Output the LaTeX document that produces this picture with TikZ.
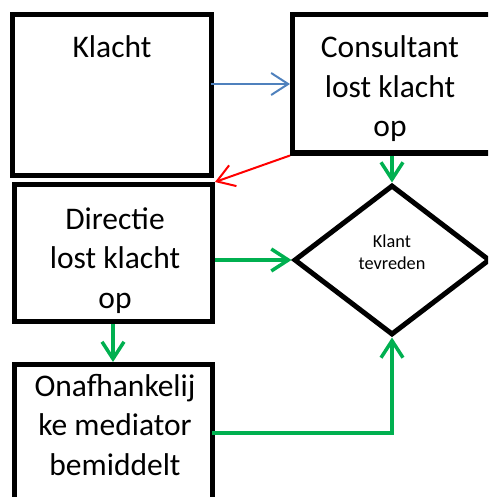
\documentclass[tikz,border=0pt]{standalone}
\usepackage{fontspec}
\setmainfont{Carlito}
\usetikzlibrary{arrows.meta,shapes.geometric}
\definecolor{ablue}{HTML}{4F81BD}
\definecolor{agreen}{HTML}{00B050}
\definecolor{ared}{HTML}{FF0000}
\begin{document}
\begin{tikzpicture}[x=1pt,y=-1pt,
  boxst/.style={draw=black,line width=5pt,rectangle,inner sep=0pt},
  bigtxt/.style={font={\fontsize{31.5}{39.5}\selectfont},align=center,inner sep=0pt,anchor=base},
  smalltxt/.style={font={\fontsize{18.3}{21.5}\selectfont},align=center,inner sep=0pt,anchor=base},
  tipst/.style={-{Straight Barb[length=17pt,width=22pt]}},
  bluearr/.style={tipst,draw=ablue,line width=2pt},
  redarr/.style={tipst,draw=ared,line width=2pt},
  greenarr/.style={tipst,draw=agreen,line width=3.5pt}]
\useasboundingbox (0,0) rectangle (488,497);
\clip (0,0) rectangle (488,497);
\node[boxst,minimum width=199pt,minimum height=160.5pt] (b1) at (112,94.75) {};
\node[boxst,minimum width=200.5pt,minimum height=138.5pt] (b2) at (392.75,83.75) {};
\node[boxst,minimum width=198pt,minimum height=137pt] (b3) at (113.5,253) {};
\node[boxst,minimum width=198pt,minimum height=145.5pt] (b4) at (113.5,437.25) {};
\node[diamond,draw=black,line width=5pt,inner sep=0pt,minimum width=196pt,minimum height=150pt] (d) at (392,260) {};
\node[bigtxt] (t1) at (112,58) {Klacht};
\node[bigtxt] (t2) at (390,137) {Consultant\\lost klacht\\op};
\node[bigtxt] (t3) at (115,308) {Directie\\lost klacht\\op};
\node[bigtxt] (t4) at (115,475) {Onafhankelij\\ke mediator\\bemiddelt};
\node[smalltxt] (t5) at (392,269) {Klant\\tevreden};
\coordinate (bs) at (211,84);
\draw[bluearr] (bs) -- (b2.west |- bs);
\draw[redarr] (b2.south west) -- (b3.north east);
\draw[greenarr] (b2.south -| d.north) -- (d.north);
\draw[greenarr] (b3.east |- d.west) -- (d.west);
\draw[greenarr] (b3.south -| 113,0) -- (b4.north -| 113,0);
\coordinate (gs) at (212,433);
\draw[greenarr] (gs) -| (d.south);
\end{tikzpicture}
\end{document}
